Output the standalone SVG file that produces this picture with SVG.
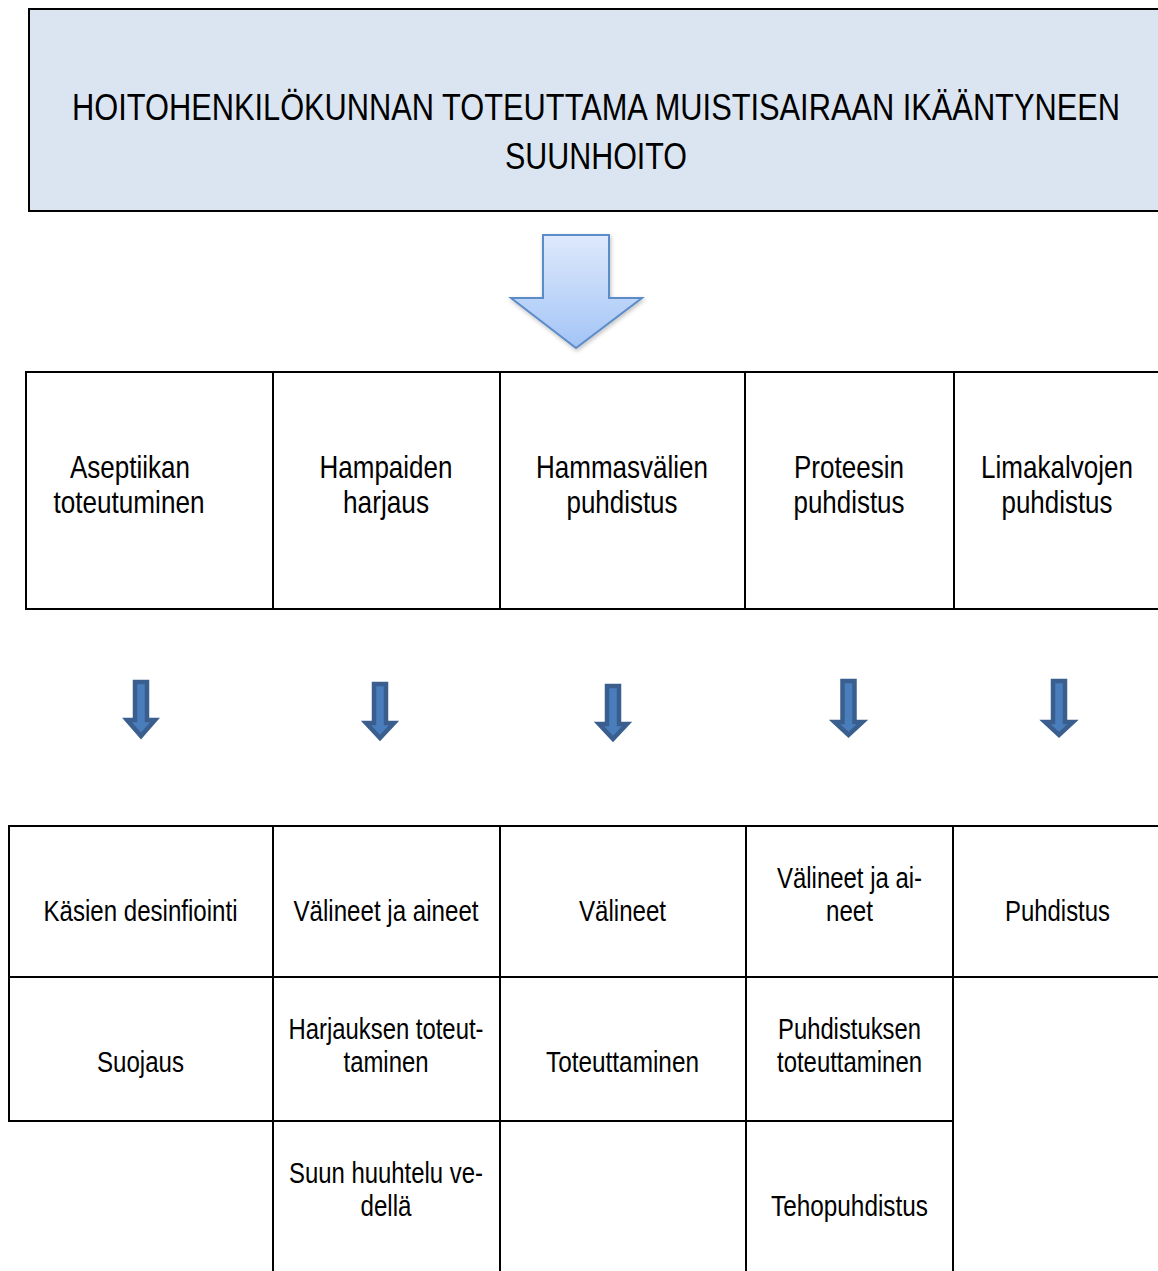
<svg xmlns="http://www.w3.org/2000/svg" width="1158" height="1271" viewBox="0 0 1158 1271">
<style>
  .cell { fill: #ffffff; stroke: #000000; stroke-width: 2; }
  .edge { fill: none; stroke: #000000; stroke-width: 2; }
  .head { fill: #dbe5f1; stroke: none; }
  text { font-family: "Liberation Sans Narrow", "Arial Narrow", "Liberation Sans", Arial, sans-serif; fill: #000000; text-anchor: middle; }
  .t1 { font-size: 32px; }
  .t2 { font-size: 29px; }
  .th { font-size: 36.5px; }
  .small { fill: #4a7dbb; stroke: #3a5f8e; stroke-width: 4.5; stroke-linejoin: miter; }
  .big { fill: url(#bigGrad); stroke: #5b8cc8; stroke-width: 2; }
</style>
<defs>
  <linearGradient id="bigGrad" x1="0" y1="0" x2="0" y2="1">
    <stop offset="0" stop-color="#dee9fc"/>
    <stop offset="1" stop-color="#a3c4f6"/>
  </linearGradient>
  <filter id="shadow" x="-20%" y="-20%" width="140%" height="140%">
    <feDropShadow dx="1" dy="2" stdDeviation="2" flood-color="#000000" flood-opacity="0.25"/>
  </filter>
</defs>
<rect width="1158" height="1271" fill="#ffffff"/>

<g id="title">
  <rect class="head" x="29" y="9" width="1129" height="202"/>
  <path class="edge" d="M1158,9 H29 V211 H1158"/>
  <text class="th" x="596" y="120" textLength="1048" lengthAdjust="spacingAndGlyphs">HOITOHENKILÖKUNNAN TOTEUTTAMA MUISTISAIRAAN IKÄÄNTYNEEN</text>
  <text class="th" x="596" y="169" textLength="182" lengthAdjust="spacingAndGlyphs">SUUNHOITO</text>
</g>

<g id="connectors">
  <polygon class="big" filter="url(#shadow)" points="543,235 609,235 609,298 642,298 576,348 511,298 543,298"/>
  <polygon class="small" points="135,682 147,682 147,720 155,720 141,736 127,720 135,720"/>
  <polygon class="small" points="374,684 386,684 386,723 394,723 380,738 366,723 374,723"/>
  <polygon class="small" points="607,686 619,686 619,724 627,724 613,739 599,724 607,724"/>
  <polygon class="small" points="842.5,681 854.5,681 854.5,722 862.5,722 848.5,735 834.5,722 842.5,722"/>
  <polygon class="small" points="1053,681 1065,681 1065,722 1073,722 1059,735 1045,722 1053,722"/>
</g>

<g id="row1-aseptiikka">
  <rect class="cell" x="26" y="372" width="247" height="237"/>
  <text class="t1" x="130" y="478" textLength="120" lengthAdjust="spacingAndGlyphs">Aseptiikan</text>
  <text class="t1" x="129" y="513" textLength="151" lengthAdjust="spacingAndGlyphs">toteutuminen</text>
</g>
<g id="row1-hampaat">
  <rect class="cell" x="273" y="372" width="227" height="237"/>
  <text class="t1" x="386" y="478" textLength="133" lengthAdjust="spacingAndGlyphs">Hampaiden</text>
  <text class="t1" x="386" y="513" textLength="86" lengthAdjust="spacingAndGlyphs">harjaus</text>
</g>
<g id="row1-hammasvalit">
  <rect class="cell" x="500" y="372" width="245" height="237"/>
  <text class="t1" x="622" y="478" textLength="172" lengthAdjust="spacingAndGlyphs">Hammasvälien</text>
  <text class="t1" x="622" y="513" textLength="111" lengthAdjust="spacingAndGlyphs">puhdistus</text>
</g>
<g id="row1-proteesi">
  <rect class="cell" x="745" y="372" width="209" height="237"/>
  <text class="t1" x="849" y="478" textLength="110" lengthAdjust="spacingAndGlyphs">Proteesin</text>
  <text class="t1" x="849" y="513" textLength="111" lengthAdjust="spacingAndGlyphs">puhdistus</text>
</g>
<g id="row1-limakalvot">
  <path class="edge" d="M1158,372 H954 V609 H1158"/>
  <text class="t1" x="1057" y="478" textLength="152" lengthAdjust="spacingAndGlyphs">Limakalvojen</text>
  <text class="t1" x="1057" y="513" textLength="111" lengthAdjust="spacingAndGlyphs">puhdistus</text>
</g>

<g id="c1-kasien-desinfiointi">
  <rect class="cell" x="9" y="826" width="264" height="151"/>
  <text class="t2" x="140.5" y="921" textLength="194" lengthAdjust="spacingAndGlyphs">Käsien desinfiointi</text>
</g>
<g id="c1-suojaus">
  <rect class="cell" x="9" y="977" width="264" height="144"/>
  <text class="t2" x="140.5" y="1072" textLength="87" lengthAdjust="spacingAndGlyphs">Suojaus</text>
</g>
<g id="c2-valineet-aineet">
  <rect class="cell" x="273" y="826" width="227" height="151"/>
  <text class="t2" x="386" y="921" textLength="185" lengthAdjust="spacingAndGlyphs">Välineet ja aineet</text>
</g>
<g id="c2-harjauksen-toteuttaminen">
  <rect class="cell" x="273" y="977" width="227" height="144"/>
  <text class="t2" x="386" y="1039" textLength="195" lengthAdjust="spacingAndGlyphs">Harjauksen toteut-</text>
  <text class="t2" x="386" y="1072" textLength="85" lengthAdjust="spacingAndGlyphs">taminen</text>
</g>
<g id="c2-suun-huuhtelu">
  <path class="edge" d="M273,1271 V1121 H500 V1271"/>
  <text class="t2" x="386" y="1183" textLength="194" lengthAdjust="spacingAndGlyphs">Suun huuhtelu ve-</text>
  <text class="t2" x="386" y="1216" textLength="51" lengthAdjust="spacingAndGlyphs">dellä</text>
</g>
<g id="c3-valineet">
  <rect class="cell" x="500" y="826" width="246" height="151"/>
  <text class="t2" x="622.5" y="921" textLength="87" lengthAdjust="spacingAndGlyphs">Välineet</text>
</g>
<g id="c3-toteuttaminen">
  <rect class="cell" x="500" y="977" width="246" height="144"/>
  <text class="t2" x="622.5" y="1072" textLength="153" lengthAdjust="spacingAndGlyphs">Toteuttaminen</text>
</g>
<g id="c3-empty">
  <path class="edge" d="M500,1271 V1121 H746 V1271"/>
</g>
<g id="c4-valineet-aineet">
  <rect class="cell" x="746" y="826" width="207" height="151"/>
  <text class="t2" x="849.5" y="888" textLength="145" lengthAdjust="spacingAndGlyphs">Välineet ja ai-</text>
  <text class="t2" x="849.5" y="921" textLength="47" lengthAdjust="spacingAndGlyphs">neet</text>
</g>
<g id="c4-puhdistuksen-toteuttaminen">
  <rect class="cell" x="746" y="977" width="207" height="144"/>
  <text class="t2" x="849.5" y="1039" textLength="143" lengthAdjust="spacingAndGlyphs">Puhdistuksen</text>
  <text class="t2" x="849.5" y="1072" textLength="145" lengthAdjust="spacingAndGlyphs">toteuttaminen</text>
</g>
<g id="c4-tehopuhdistus">
  <path class="edge" d="M746,1271 V1121 H953 V1271"/>
  <text class="t2" x="849.5" y="1216" textLength="157" lengthAdjust="spacingAndGlyphs">Tehopuhdistus</text>
</g>
<g id="c5-puhdistus">
  <path class="edge" d="M1158,826 H953 V977 H1158"/>
  <text class="t2" x="1057.5" y="921" textLength="105" lengthAdjust="spacingAndGlyphs">Puhdistus</text>
</g>
<g id="c5-empty">
  <path class="edge" d="M953,977 V1271"/>
</g>
</svg>
